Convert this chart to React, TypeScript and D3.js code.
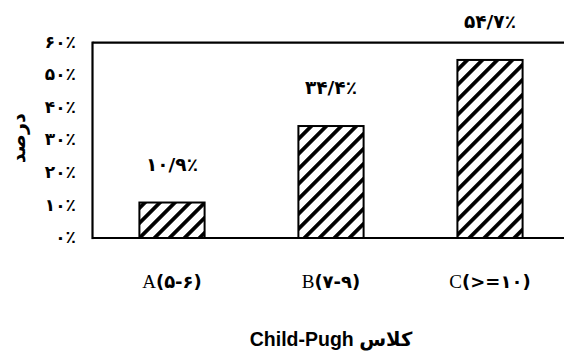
import React from "react";
import * as d3 from "d3";

const categories = ["A", "B", "C"];
const tickLabels = ["A(۵-۶)", "B(۷-۹)", "C(>=۱۰)"];
const values = [10.9, 34.4, 54.7];
const valueLabels = ["۱۰/۹٪", "۳۴/۴٪", "۵۴/۷٪"];
const yTicks = [0, 10, 20, 30, 40, 50, 60];
const yTickLabels = ["۰٪", "۱۰٪", "۲۰٪", "۳۰٪", "۴۰٪", "۵۰٪", "۶۰٪"];
const yTitle = "درصد";
const xTitle = "Child-Pugh کلاس";

const W = 564;
const H = 354;
const left = 92.5;
const top = 42.7;
const bottom = 238;
const right = 569.5;

export default function App() {
  const x = d3
    .scaleBand<string>()
    .domain(categories)
    .range([left, right])
    .paddingInner(0.59)
    .paddingOuter(0.295);
  const y = d3.scaleLinear().domain([0, 60]).range([bottom, top]);

  const sans = "'DejaVu Sans', sans-serif";
  return (
    <svg
      width={W}
      height={H}
      style={{ position: "absolute", left: 0, top: 0, background: "#fff" }}
    >
      <defs>
        <pattern
          id="hatch"
          patternUnits="userSpaceOnUse"
          width={10.6}
          height={10}
          patternTransform="rotate(45)"
        >
          <rect x={0} y={0} width={10.6} height={10} fill="#fff" />
          <rect x={0} y={0} width={3.8} height={10} fill="#000" />
        </pattern>
      </defs>
      <rect x={0} y={0} width={W} height={H} fill="#fff" />
      {categories.map((c, i) => (
        <rect
          key={c}
          x={x(c)}
          y={y(values[i])}
          width={x.bandwidth()}
          height={y(0) - y(values[i])}
          fill="url(#hatch)"
          stroke="#000"
          strokeWidth={2}
        />
      ))}
      {/* frame */}
      <line x1={left} x2={W} y1={y(60)} y2={y(60)} stroke="#000" strokeWidth={2.2} />
      <line x1={left} x2={W} y1={y(0)} y2={y(0)} stroke="#000" strokeWidth={2.2} />
      <line x1={left} x2={left} y1={y(60) - 1.1} y2={y(0) + 1.1} stroke="#000" strokeWidth={2.2} />
      {yTicks.map((t, i) => (
        <text
          key={t}
          x={76}
          y={y(t)}
          dy="0.3em"
          textAnchor="end"
          fontFamily={sans}
          fontWeight="bold"
          fontSize={17}
        >
          {yTickLabels[i]}
        </text>
      ))}
      {categories.map((c, i) => (
        <text
          key={c}
          x={(x(c) as number) + x.bandwidth() / 2}
          y={y(values[i]) - 32}
          textAnchor="middle"
          fontFamily={sans}
          fontWeight="bold"
          fontSize={18.5}
        >
          {valueLabels[i]}
        </text>
      ))}
      {categories.map((c, i) => (
        <text
          key={c}
          x={(x(c) as number) + x.bandwidth() / 2}
          y={288}
          textAnchor="middle"
        >
          <tspan fontFamily="'Liberation Serif', serif" fontSize={19}>
            {tickLabels[i].slice(0, 1)}
          </tspan>
          <tspan fontFamily={sans} fontSize={18} fontWeight="bold">
            {tickLabels[i].slice(1)}
          </tspan>
        </text>
      ))}
      <text
        transform={`translate(25, ${(top + bottom) / 2 - 2}) rotate(-90)`}
        textAnchor="middle"
        fontFamily={sans}
        fontWeight="bold"
        fontSize={19}
      >
        {yTitle}
      </text>
      <text
        x={331}
        y={346}
        textAnchor="middle"
        fontFamily="'Liberation Sans', 'DejaVu Sans', sans-serif"
        fontWeight="bold"
        fontSize={19.5}
      >
        {xTitle}
      </text>
    </svg>
  );
}
